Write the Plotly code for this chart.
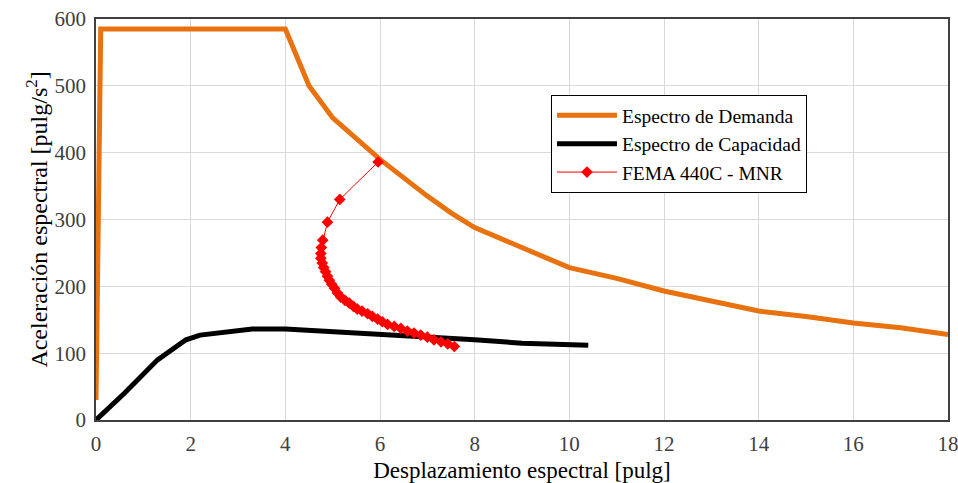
import plotly.graph_objects as go

# Espectro de Demanda
dem_x = [0.0, 0.1, 4.0, 4.3, 4.5, 5.0, 5.5, 6.0, 7.0, 7.5, 8.0, 9.0, 10.0, 11.0, 12.0, 13.0, 14.0, 15.0, 16.0, 17.0, 18.0]
dem_y = [30, 585, 585, 535, 500, 452, 420, 390, 335, 310, 288, 258, 228, 212, 193, 178, 163, 155, 145, 138, 128]

# Espectro de Capacidad
cap_x = [0.0, 0.6, 1.3, 1.9, 2.2, 2.8, 3.3, 4.0, 4.5, 5.0, 6.0, 7.0, 8.0, 9.0, 10.0, 10.4]
cap_y = [0, 40, 90, 120, 127, 132, 136, 136, 134, 133, 128, 124, 120, 115, 114, 112]

# FEMA 440C - MNR
fema_x = [5.96, 5.15, 4.89, 4.79, 4.76, 4.75, 4.75, 4.78, 4.81, 4.85, 4.89, 4.93, 4.98, 5.04, 5.10, 5.17, 5.26, 5.35, 5.44, 5.52, 5.62,
          5.74, 5.84, 5.95, 6.05, 6.16, 6.30, 6.44, 6.58, 6.72, 6.86, 7.00, 7.14, 7.29, 7.43, 7.57]
fema_y = [386, 330, 296, 269, 258, 249, 242, 235, 228, 222, 215, 209, 203, 197, 190, 184, 179, 175, 170, 166, 163,
          159, 155, 151, 147, 143, 140, 137, 133, 130, 127, 124, 120, 117, 114, 110]

x_ticks = [0, 2, 4, 6, 8, 10, 12, 14, 16, 18]
y_ticks = [0, 100, 200, 300, 400, 500, 600]

fig = go.Figure()
fig.add_trace(go.Scatter(x=dem_x, y=dem_y, mode="lines", name="Espectro de Demanda",
                         line=dict(color="#E8720F", width=5)))
fig.add_trace(go.Scatter(x=cap_x, y=cap_y, mode="lines", name="Espectro de Capacidad",
                         line=dict(color="#000000", width=5)))
fig.add_trace(go.Scatter(x=fema_x, y=fema_y, mode="lines+markers", name="FEMA 440C - MNR",
                         line=dict(color="#FF0000", width=1),
                         marker=dict(symbol="diamond", size=9, color="#FF0000")))

font = "Liberation Serif, Times New Roman, serif"
fig.update_layout(
    width=958, height=483,
    margin=dict(l=96, r=10, t=19, b=63),
    paper_bgcolor="white", plot_bgcolor="white",
    font=dict(family=font, size=21, color="#000000"),
    showlegend=True,
    legend=dict(x=0.534, y=0.81, xanchor="left", yanchor="top",
                bgcolor="white", bordercolor="#000000", borderwidth=1,
                font=dict(family=font, size=19.5), tracegroupgap=0, itemwidth=60),
    xaxis=dict(range=[0, 18], tickvals=x_ticks, showgrid=True, gridcolor="#D9D9D9", gridwidth=1,
               zeroline=False, showline=True, linecolor="#404040", linewidth=1.5, mirror=True,
               ticks="", tickfont=dict(size=21, color="#404040"), automargin=False,
               ticklabelstandoff=4, ticklabeloverflow="allow",
               title=dict(text="Desplazamiento espectral [pulg]", font=dict(size=23), standoff=20)),
    yaxis=dict(range=[0, 600], tickvals=y_ticks, showgrid=True, gridcolor="#D9D9D9", gridwidth=1,
               zeroline=False, showline=True, linecolor="#404040", linewidth=1.5, mirror=True,
               ticks="", tickfont=dict(size=21, color="#404040"), automargin=False,
               ticklabelstandoff=4, ticklabeloverflow="allow",
               title=dict(text="Aceleración espectral [pulg/s<sup>2</sup>]", font=dict(size=24), standoff=0)),
)
fig.write_html("out.html", config={"displayModeBar": False},
               post_script="document.body.style.margin='0';document.body.style.overflow='hidden';")
